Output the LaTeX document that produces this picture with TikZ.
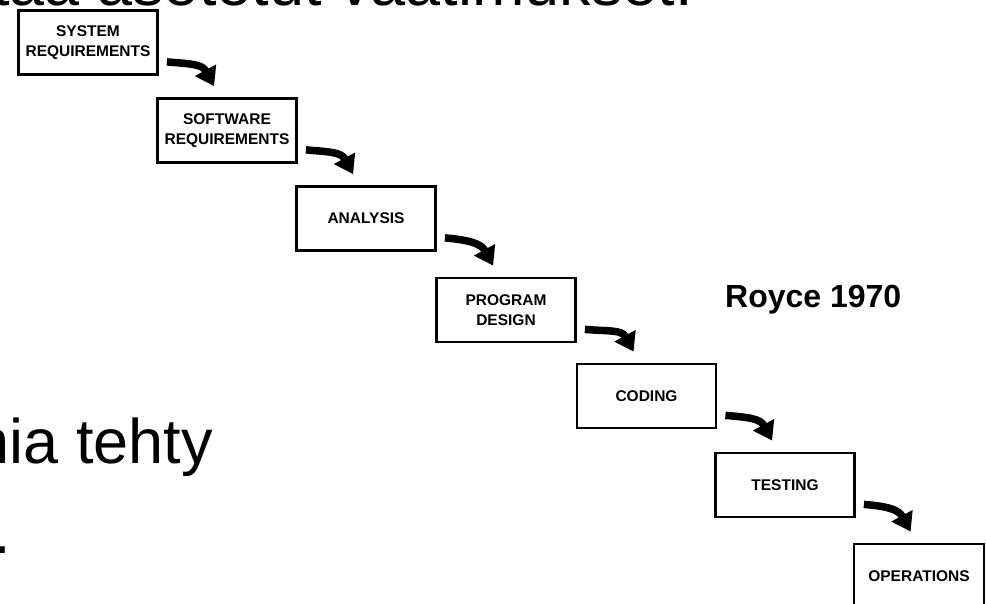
\documentclass[tikz,border=0pt]{standalone}
\usepackage{fontspec}
\setmainfont{Liberation Sans}
\usetikzlibrary{arrows.meta}

\begin{document}
\begin{tikzpicture}[x=1pt,y=-1pt,
    phase/.style={draw, line width=2.8pt, minimum width=139pt, minimum height=64pt,
      inner sep=0pt, align=center, font=\fontsize{15.5}{19.5}\selectfont\bfseries},
    flow/.style={line width=7.5pt, -{Triangle[length=18pt,width=23pt]}},
    slidetext/.style={inner sep=0pt, font=\fontsize{63}{70}\selectfont}]
    % Fix the page to the cropped slide
    \useasboundingbox (0,0) rectangle (986,604);
    \clip (0,0) rectangle (986,604);

    % Draw the slide text that shows behind the figure
    \node[slidetext, anchor=base east] (head) at (693,6) {täyttää asetetut vaatimukset.};
    \node[slidetext, anchor=base east] (tehty) at (213,463) {nia tehty};
    \node[slidetext, anchor=base west] (dot) at (-7,553) {.};

    % Draw the waterfall phases, each one step down and right
    \node[phase] (sys)  at (88,42.5)   {SYSTEM\\REQUIREMENTS};
    \node[phase] (soft) at (227,130.5) {SOFTWARE\\REQUIREMENTS};
    \node[phase] (ana)  at (366,218.5) {ANALYSIS};
    \node[phase] (prog) at (506,310)   {PROGRAM\\DESIGN};
    \node[phase] (cod)  at (646.5,396) {CODING};
    \node[phase] (test) at (785,485)   {TESTING};
    \node[phase, minimum width=130pt] (ops) at (919,576) {OPERATIONS};

    % Draw the bent arrows from one phase to the next
    \foreach \a/\b in {sys/soft, soft/ana, ana/prog, prog/cod, cod/test, test/ops}
      \draw[flow] ([xshift=8pt,yshift=14pt]\a.south east)
        .. controls +(24,2) and +(-12,-22) .. ([xshift=58pt,yshift=11pt]\b.north west);

    % Source label
    \node[inner sep=0pt, anchor=base west, font=\fontsize{32}{36}\selectfont\bfseries]
      (royce) at (725,308) {Royce 1970};
  \end{tikzpicture}
\end{document}
